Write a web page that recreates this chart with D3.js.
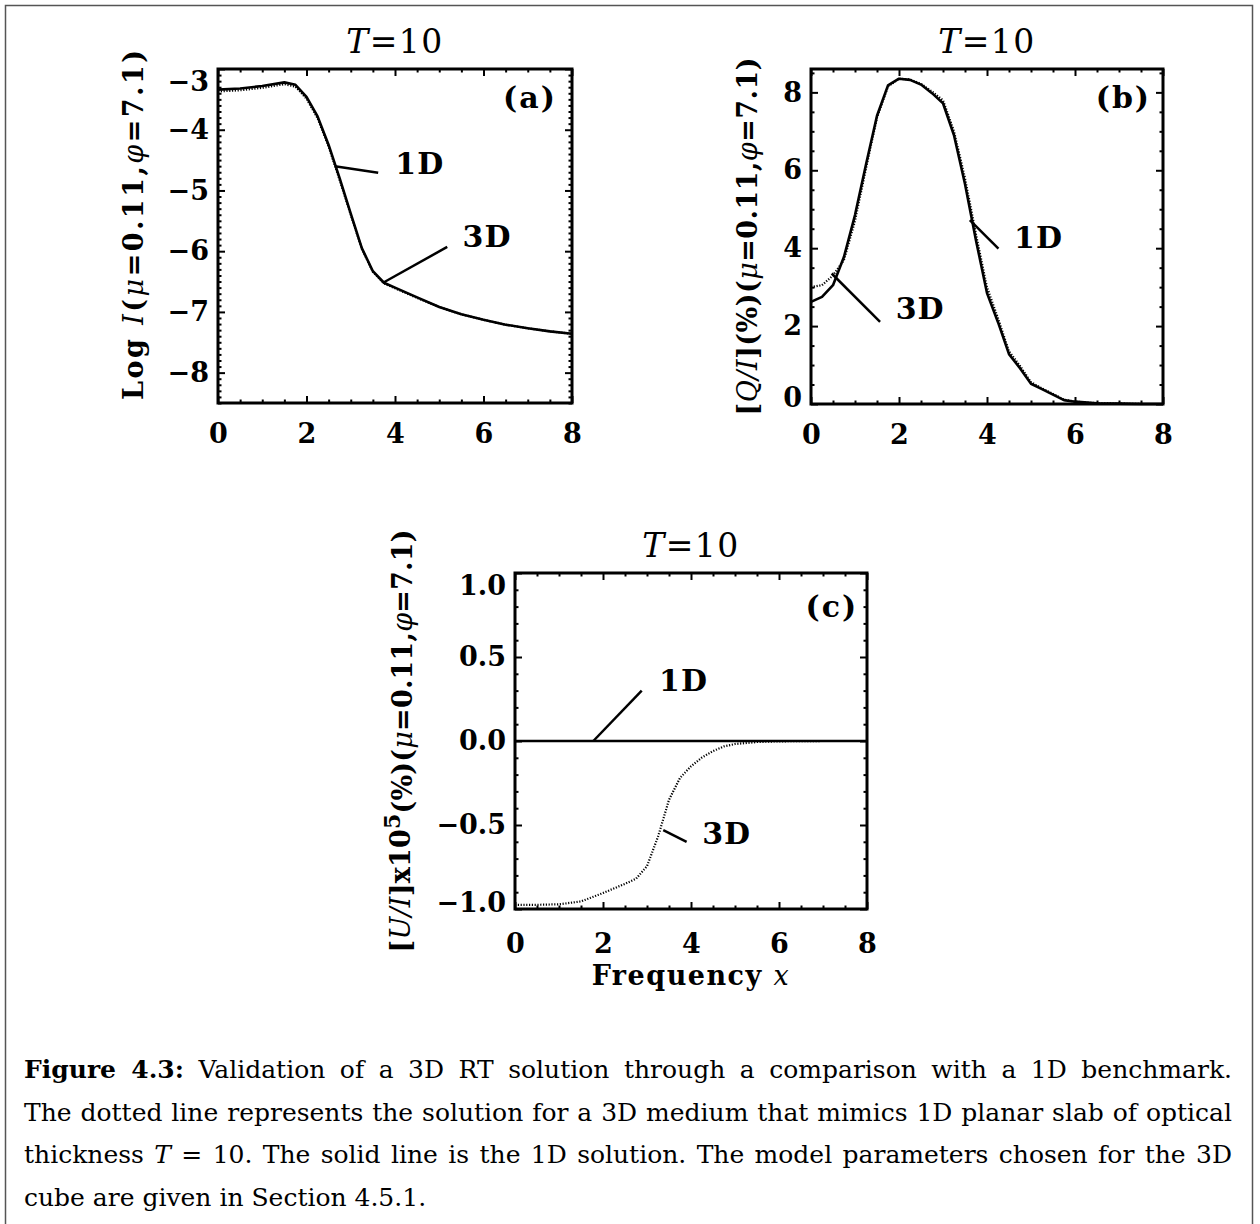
<!DOCTYPE html>
<html>
<head>
<meta charset="utf-8">
<script src="https://cdn.jsdelivr.net/npm/d3@7"></script>
<style>
  body { margin: 0; background: #fff; }
  svg { display: block; }
  .tick text { font-family: "DejaVu Serif", serif; font-weight: bold; font-size: 27px; fill: #000; }
  .tick line { stroke: #000; stroke-width: 2; }
</style>
</head>
<body>
<svg id="fig" width="1260" height="1224"></svg>
<script>
// ---- panel (a): Log I ----
const freqA = [0, 0.5, 1.0, 1.5, 1.75, 2.0, 2.25, 2.5, 2.75, 3.0, 3.25, 3.5, 3.75, 4.0, 4.5, 5.0, 5.5, 6.0, 6.5, 7.0, 7.5, 8.0];
const logI1D = [-3.34, -3.32, -3.28, -3.22, -3.26, -3.46, -3.78, -4.25, -4.80, -5.38, -5.95, -6.33, -6.52, -6.60, -6.76, -6.92, -7.04, -7.13, -7.21, -7.27, -7.32, -7.36];
const logI3D = [-3.37, -3.35, -3.31, -3.25, -3.29, -3.49, -3.81, -4.28, -4.83, -5.40, -5.96, -6.34, -6.53, -6.61, -6.77, -6.92, -7.04, -7.13, -7.21, -7.27, -7.32, -7.36];

// ---- panel (b): Q/I ----
const freqB = [0, 0.25, 0.5, 0.75, 1.0, 1.25, 1.5, 1.75, 2.0, 2.25, 2.5, 2.75, 3.0, 3.25, 3.5, 3.75, 4.0, 4.25, 4.5, 4.75, 5.0, 5.25, 5.5, 5.75, 6.0, 6.5, 7.0, 7.5, 8.0];
const q1D = [2.62, 2.75, 3.05, 3.78, 4.85, 6.15, 7.40, 8.18, 8.35, 8.32, 8.20, 7.98, 7.72, 6.90, 5.65, 4.20, 2.85, 2.10, 1.28, 0.92, 0.52, 0.38, 0.24, 0.10, 0.06, 0.02, 0.01, 0.0, 0.0];
const q3D = [3.00, 3.05, 3.30, 3.70, 4.70, 6.05, 7.35, 8.15, 8.35, 8.33, 8.22, 8.02, 7.80, 7.00, 5.80, 4.35, 3.00, 2.20, 1.35, 0.98, 0.56, 0.40, 0.26, 0.11, 0.06, 0.02, 0.01, 0.0, 0.0];

// ---- panel (c): U/I x 1e5 ----
const freqC = [0, 0.5, 1.0, 1.5, 2.0, 2.5, 2.75, 3.0, 3.25, 3.5, 3.75, 4.0, 4.25, 4.5, 4.75, 5.0, 5.5, 6.0, 7.0, 8.0];
const u1D = [0, 0, 0, 0, 0, 0, 0, 0, 0, 0, 0, 0, 0, 0, 0, 0, 0, 0, 0, 0];
const u3D = [-0.975, -0.975, -0.972, -0.955, -0.905, -0.850, -0.820, -0.745, -0.570, -0.350, -0.220, -0.150, -0.098, -0.060, -0.032, -0.018, -0.006, -0.002, 0, 0];

// tick labels
const xTicks = [0, 2, 4, 6, 8];
const yTicksA = [-8, -7, -6, -5, -4, -3];
const yTicksB = [0, 2, 4, 6, 8];
const yTicksC = [-1.0, -0.5, 0.0, 0.5, 1.0];

const captionLines = [
  "Validation of a 3D RT solution through a comparison with a 1D benchmark.",
  "The dotted line represents the solution for a 3D medium that mimics 1D planar slab of optical",
  "The solid line is the 1D solution. The model parameters chosen for the 3D",
  "cube are given in Section 4.5.1."
];

const svg = d3.select("#fig");
svg.append("rect").attr("width", 1260).attr("height", 1224).attr("fill", "#fff");
// page frame (bottom edge runs off the picture)
svg.append("rect")
  .attr("x", 5.5).attr("y", 5.5).attr("width", 1247).attr("height", 1240)
  .attr("fill", "none").attr("stroke", "#555").attr("stroke-width", 1.5);

function drawPanel(cfg) {
  const g = svg.append("g").attr("transform", `translate(${cfg.left},${cfg.top})`);
  const w = cfg.w, h = cfg.h;

  const x = d3.scaleLinear().domain([0, 8]).range([0, w]);
  const y = d3.scaleLinear().domain(cfg.yDomain).range([h, 0]);

  const minorX = d3.range(0, 8.001, 0.5).filter(v => Math.abs(v / 2 - Math.round(v / 2)) > 1e-6);
  const minorY = d3.range(cfg.yDomain[0], cfg.yDomain[1] + 1e-6, cfg.yMinor)
    .filter(v => !cfg.yTicks.some(t => Math.abs(t - v) < 1e-6));

  const noDomain = s => s.select(".domain").remove();

  // major + minor ticks on all four sides, pointing inward
  g.append("g").attr("transform", `translate(0,${h})`)
    .call(d3.axisBottom(x).tickValues(xTicks).tickSize(-7).tickPadding(cfg.xPad).tickFormat(d3.format("d")))
    .call(noDomain);
  g.append("g").attr("transform", `translate(0,${h})`)
    .call(d3.axisBottom(x).tickValues(minorX).tickSize(-3.5).tickFormat(""))
    .call(noDomain);
  g.append("g")
    .call(d3.axisTop(x).tickValues(xTicks).tickSize(-7).tickFormat(""))
    .call(noDomain);
  g.append("g")
    .call(d3.axisTop(x).tickValues(minorX).tickSize(-3.5).tickFormat(""))
    .call(noDomain);

  const yl = g.append("g")
    .call(d3.axisLeft(y).tickValues(cfg.yTicks).tickSize(-7).tickPadding(9).tickFormat(cfg.yFormat))
    .call(noDomain);
  // labels sitting on the frame edge are pulled inside, as in the original
  yl.selectAll(".tick text")
    .filter(d => Math.abs(d - cfg.yDomain[1]) < 1e-6).attr("dy", "0.8em");
  yl.selectAll(".tick text")
    .filter(d => Math.abs(d - cfg.yDomain[0]) < 1e-6).attr("dy", "0.08em");
  g.append("g")
    .call(d3.axisLeft(y).tickValues(minorY).tickSize(-3.5).tickFormat(""))
    .call(noDomain);
  g.append("g").attr("transform", `translate(${w},0)`)
    .call(d3.axisRight(y).tickValues(cfg.yTicks).tickSize(-7).tickFormat(""))
    .call(noDomain);
  g.append("g").attr("transform", `translate(${w},0)`)
    .call(d3.axisRight(y).tickValues(minorY).tickSize(-3.5).tickFormat(""))
    .call(noDomain);

  // curves
  const line = d3.line().x(d => x(d[0])).y(d => y(d[1]));
  g.append("path")
    .datum(d3.zip(cfg.freq, cfg.dotted))
    .attr("d", line).attr("fill", "none")
    .attr("stroke", "#000").attr("stroke-width", 2.2).attr("stroke-dasharray", "1.2,1.6");
  g.append("path")
    .datum(d3.zip(cfg.freq, cfg.solid))
    .attr("d", line).attr("fill", "none")
    .attr("stroke", "#000").attr("stroke-width", 2.6).attr("stroke-linejoin", "round");

  // frame
  g.append("rect").attr("width", w).attr("height", h)
    .attr("fill", "none").attr("stroke", "#000").attr("stroke-width", 3);

  // leader lines + curve names
  cfg.notes.forEach(n => {
    g.append("line")
      .attr("x1", x(n.from[0])).attr("y1", y(n.from[1]))
      .attr("x2", x(n.to[0])).attr("y2", y(n.to[1]))
      .attr("stroke", "#000").attr("stroke-width", 2.5);
    g.append("text")
      .attr("x", x(n.at[0])).attr("y", y(n.at[1])).attr("dy", "0.36em")
      .attr("text-anchor", "middle")
      .attr("font-family", "DejaVu Serif").attr("font-weight", "bold").attr("font-size", 30)
      .attr("letter-spacing", 1)
      .text(n.label);
  });

  // panel letter
  g.append("text")
    .attr("x", x(cfg.tag.at[0])).attr("y", y(cfg.tag.at[1])).attr("dy", "0.36em")
    .attr("text-anchor", "middle")
    .attr("font-family", "DejaVu Serif").attr("font-weight", "bold").attr("font-size", 30)
    .attr("letter-spacing", 2)
    .text(cfg.tag.text);

  // title T=10
  const t = g.append("text")
    .attr("x", w / 2).attr("y", -16).attr("text-anchor", "middle")
    .attr("font-family", "DejaVu Serif").attr("font-size", 33).attr("letter-spacing", 1.5);
  t.append("tspan").attr("font-style", "italic").text("T");
  t.append("tspan").text("=10");

  // y-axis title (rotated)
  const yt = g.append("text")
    .attr("transform", `translate(${cfg.yTitle.x - cfg.left},${h / 2 + cfg.yTitle.shift}) rotate(-90)`)
    .attr("text-anchor", "middle").attr("dy", "0.36em")
    .attr("font-family", "DejaVu Serif").attr("font-weight", "bold").attr("font-size", 27)
    .attr("textLength", cfg.yTitle.len).attr("lengthAdjust", "spacing");
  cfg.yTitle.parts.forEach(p => {
    const s = yt.append("tspan").text(p.t);
    if (p.i) s.attr("font-style", "italic").attr("font-weight", "normal");
    if (p.dy) s.attr("dy", p.dy).attr("font-size", p.fs || null);
  });

  if (cfg.xTitle) {
    const xt = g.append("text")
      .attr("x", w / 2).attr("y", h + 76).attr("text-anchor", "middle")
      .attr("font-family", "DejaVu Serif").attr("font-weight", "bold").attr("font-size", 27)
      .attr("letter-spacing", 1.5);
    xt.append("tspan").text("Frequency ");
    xt.append("tspan").attr("font-style", "italic").attr("font-weight", "normal").text("x");
  }
}

const muPhi = [
  { t: "(" }, { t: "μ", i: true }, { t: "=0.11," }, { t: "φ", i: true }, { t: "=7.1)" }
];

drawPanel({
  left: 218, top: 69, w: 354, h: 334,
  yDomain: [-8.5, -3], yTicks: yTicksA, yMinor: 0.1, yFormat: d3.format("d"), xPad: 21,
  freq: freqA, solid: logI1D, dotted: logI3D,
  notes: [
    { label: "1D", from: [2.64, -4.60], to: [3.62, -4.71], at: [4.56, -4.55] },
    { label: "3D", from: [3.73, -6.52], to: [5.18, -5.93], at: [6.08, -5.76] }
  ],
  tag: { text: "(a)", at: [7.05, -3.46] },
  yTitle: { x: 133, shift: -11, len: 350, parts: [{ t: "Log  " }, { t: "I", i: true }].concat(muPhi) }
});

drawPanel({
  left: 811, top: 69, w: 352, h: 335,
  yDomain: [0, 8.6], yTicks: yTicksB, yMinor: 0.5, yFormat: d3.format("d"), xPad: 21,
  freq: freqB, solid: q1D, dotted: q3D,
  notes: [
    { label: "1D", from: [3.61, 4.72], to: [4.26, 3.99], at: [5.17, 4.29] },
    { label: "3D", from: [0.47, 3.35], to: [1.57, 2.11], at: [2.48, 2.45] }
  ],
  tag: { text: "(b)", at: [7.10, 7.88] },
  yTitle: { x: 747, shift: 0, len: 358, parts: [{ t: "[" }, { t: "Q/I", i: true }, { t: "](%)" }].concat(muPhi) }
});

drawPanel({
  left: 515, top: 573, w: 352, h: 336,
  yDomain: [-1, 1], yTicks: yTicksC, yMinor: 0.1, yFormat: d3.format(".1f"), xPad: 25,
  freq: freqC, solid: u1D, dotted: u3D,
  notes: [
    { label: "1D", from: [1.78, 0.0], to: [2.88, 0.30], at: [3.83, 0.363] },
    { label: "3D", from: [3.37, -0.53], to: [3.90, -0.60], at: [4.81, -0.55] }
  ],
  tag: { text: "(c)", at: [7.20, 0.80] },
  yTitle: {
    x: 400, shift: 0, len: 423,
    parts: [{ t: "[" }, { t: "U/I", i: true }, { t: "]x10" }, { t: "5", dy: "-0.45em", fs: 22 }, { t: "(%)", dy: "0.45em" }].concat(muPhi)
  },
  xTitle: true
});

// caption, justified by stretching the spaces between words
const cap = svg.append("g")
  .attr("font-family", "DejaVu Serif, serif").attr("font-size", 25).attr("fill", "#000");
const capX = 24, capR = 1232;

function justify(text) {
  const natural = text.node().getComputedTextLength();
  const gaps = (text.text().match(/ /g) || []).length;
  if (gaps) text.attr("word-spacing", (capR - capX - natural) / gaps);
}

const l1 = cap.append("text").attr("x", capX).attr("y", 1078);
l1.append("tspan").attr("font-weight", "bold").text("Figure 4.3:");
l1.append("tspan").text(" " + captionLines[0]);
justify(l1);
const l2 = cap.append("text").attr("x", capX).attr("y", 1121).text(captionLines[1]);
justify(l2);
const l3 = cap.append("text").attr("x", capX).attr("y", 1163);
l3.append("tspan").text("thickness ");
l3.append("tspan").attr("font-style", "italic").text("T");
l3.append("tspan").text(" = 10. " + captionLines[2]);
justify(l3);
cap.append("text").attr("x", capX).attr("y", 1206).text(captionLines[3]);
</script>
</body>
</html>
